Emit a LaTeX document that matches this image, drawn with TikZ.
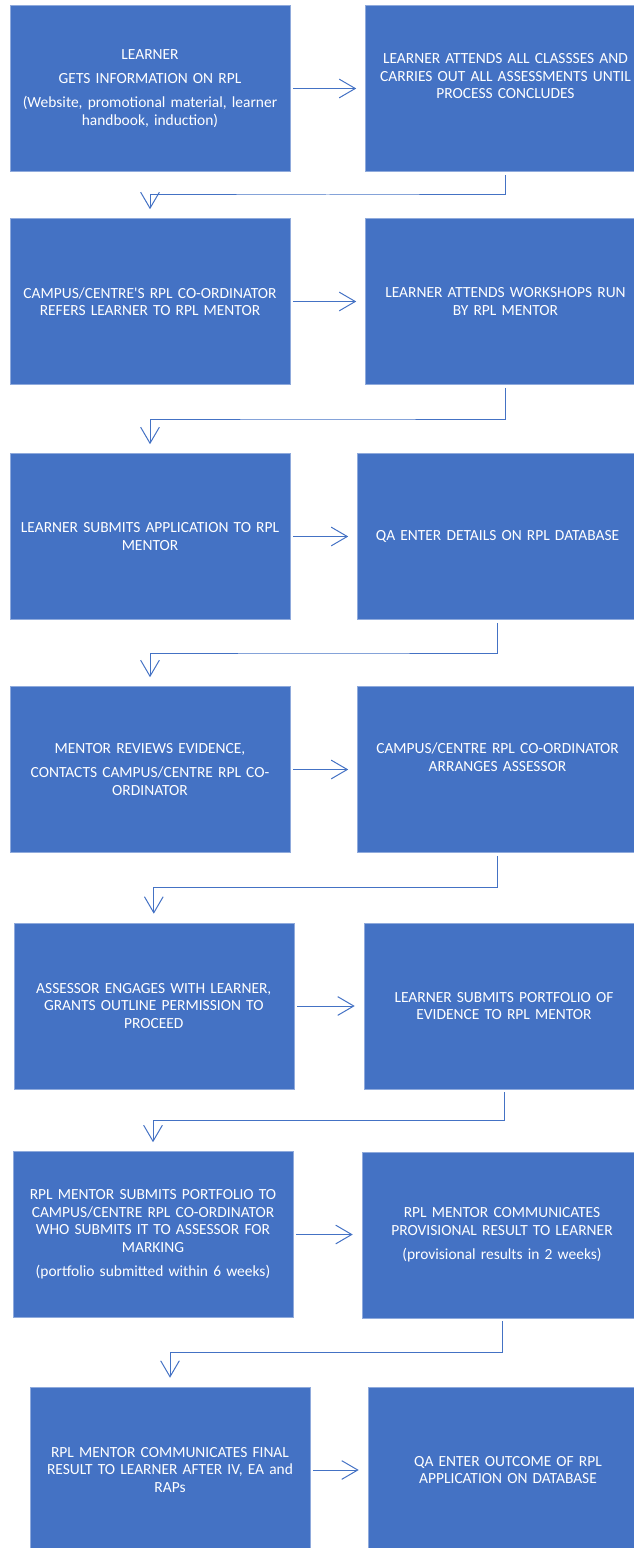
\documentclass[tikz,border=0pt]{standalone}
\usepackage{fontspec}
\setmainfont{Carlito}
\usetikzlibrary{arrows.meta,calc}

\begin{document}
\begin{tikzpicture}[x=0.75pt, y=-0.75pt,
    stepbox/.style={draw=boxedgecolor, line width=0.4pt, fill=boxcolor, text=white, align=center,
        text width=200pt, inner xsep=5pt, inner ysep=0pt, minimum height=124.5pt,
        font=\fontsize{11.6pt}{13.2pt}\selectfont},
    flow/.style={draw=linecolor, line width=0.75pt, shorten <=2.25pt, shorten >=6.75pt,
        -{Straight Barb[length=12pt,width=14pt]}}]
            % Define the colors
            \definecolor{boxcolor}{RGB}{68, 114, 196}
            \definecolor{boxedgecolor}{RGB}{143, 170, 220}
            \definecolor{linecolor}{RGB}{68, 114, 196}

            \useasboundingbox (0,0) rectangle (634,1548);
            \clip (0,0) rectangle (634,1548);

            % Draw the first row
            \node[stepbox] (info) at (150,88.5) {LEARNER\\[5pt]GETS INFORMATION ON RPL\\[5pt](Website, promotional material, learner\\handbook, induction)};
            \node[stepbox] (classes) at (505.5,88.5) {LEARNER ATTENDS ALL CLASSSES AND\\CARRIES OUT ALL ASSESSMENTS UNTIL\\PROCESS CONCLUDES\\[5pt]\mbox{}};

            % Draw the second row
            \node[stepbox] (refers) at (150,301.5) {CAMPUS/CENTRE\textquotesingle S RPL CO-ORDINATOR\\REFERS LEARNER TO RPL MENTOR};
            \node[stepbox] (workshops) at (505.5,301.5) {LEARNER ATTENDS WORKSHOPS RUN\\BY RPL MENTOR};

            % Draw the third row
            \node[stepbox] (application) at (150,536.5) {LEARNER SUBMITS APPLICATION TO RPL\\MENTOR};
            \node[stepbox] (database) at (497.5,536.5) {QA ENTER DETAILS ON RPL DATABASE};

            % Draw the fourth row
            \node[stepbox] (evidence) at (150,769.5) {MENTOR REVIEWS EVIDENCE,\\[5pt]CONTACTS CAMPUS/CENTRE RPL CO-\\ORDINATOR};
            \node[stepbox] (assessor) at (497.5,769.5) {CAMPUS/CENTRE RPL CO-ORDINATOR\\ARRANGES ASSESSOR\\[5pt]\mbox{}};

            % Draw the fifth row
            \node[stepbox] (permission) at (153.8,1006) {ASSESSOR ENGAGES WITH LEARNER,\\GRANTS OUTLINE PERMISSION TO\\PROCEED};
            \node[stepbox] (portfolio) at (504,1006) {LEARNER SUBMITS PORTFOLIO OF\\EVIDENCE TO RPL MENTOR};

            % Draw the sixth row
            \node[stepbox] (marking) at (153,1234.5) {RPL MENTOR SUBMITS PORTFOLIO TO\\CAMPUS/CENTRE RPL CO-ORDINATOR\\WHO SUBMITS IT TO ASSESSOR FOR\\MARKING\\[5pt](portfolio submitted within 6 weeks)};
            \node[stepbox] (provisional) at (502,1235) {RPL MENTOR COMMUNICATES\\PROVISIONAL RESULT TO LEARNER\\[5pt](provisional results in 2 weeks)};

            % Draw the seventh row
            \node[stepbox] (final) at (170,1470) {RPL MENTOR COMMUNICATES FINAL\\RESULT TO LEARNER AFTER IV, EA and\\RAPs};
            \node[stepbox] (outcome) at (508,1470) {QA ENTER OUTCOME OF RPL\\APPLICATION ON DATABASE};

            % Draw the arrows across each row
            \draw[flow] (info.east) -- (info.east -| classes.west);
            \draw[flow] (refers.east) -- (refers.east -| workshops.west);
            \draw[flow] (application.east) -- (application.east -| database.west);
            \draw[flow] (evidence.east) -- (evidence.east -| assessor.west);
            \draw[flow] (permission.east) -- (permission.east -| portfolio.west);
            \draw[flow] (marking.east) -- (marking.east -| provisional.west);
            \draw[flow] (final.east) -- (final.east -| outcome.west);

            % Draw the arrows down to the next row
            \coordinate (m1) at ($(classes.south)!.5!(refers.north)$);
            \draw[flow] (classes.south) |- (m1) -| (refers.north);
            \coordinate (m2) at ($(workshops.south)!.5!(application.north)$);
            \draw[flow] (workshops.south) |- (m2) -| (application.north);
            \coordinate (m3) at ($(database.south)!.5!(evidence.north)$);
            \draw[flow] (database.south) |- (m3) -| (evidence.north);
            \coordinate (m4) at ($(assessor.south)!.5!(permission.north)$);
            \draw[flow] (assessor.south) |- (m4) -| (permission.north);
            \coordinate (m5) at ($(portfolio.south)!.5!(marking.north)$);
            \draw[flow] (portfolio.south) |- (m5) -| (marking.north);
            \coordinate (m6) at ($(provisional.south)!.5!(final.north)$);
            \draw[flow] (provisional.south) |- (m6) -| (final.north);

        \end{tikzpicture}
\end{document}
